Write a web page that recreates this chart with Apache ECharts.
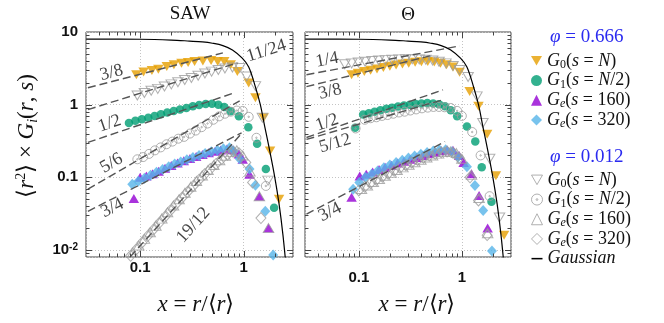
<!DOCTYPE html>
<html>
<head>
<meta charset="utf-8">
<script src="https://cdn.jsdelivr.net/npm/echarts@6/dist/echarts.min.js"></script>
<style>
html,body{margin:0;padding:0;background:#ffffff;}
#chart{width:664px;height:323px;}
</style>
</head>
<body>
<div id="chart"></div>
<script>
// ---------------- data ----------------
const panelTitles = ['SAW', 'Θ'];
const xTickValues = [0.1, 1];
const xTickLabels = ['0.1', '1'];
const yTickValues = [0.01, 0.1, 1, 10];
const yTickLabels = ['10^-2', '0.1', '1', '10'];

// SAW panel, phi = 0.666
const sawG0MeltX = [0.092,0.108,0.13,0.15,0.181,0.212,0.251,0.291,0.336,0.404,0.485,0.562,0.65,0.75,0.87,1.12,1.3,1.56,1.8,2.2];
const sawG0MeltY = [2.58,2.81,2.95,3.08,3.35,3.53,3.72,3.79,3.92,4.0,4.05,3.92,3.92,3.53,2.86,1.98,1.24,0.66,0.23,0.05];
const sawG1MeltX = [0.078,0.09,0.104,0.12,0.138,0.159,0.183,0.211,0.243,0.28,0.323,0.372,0.43,0.495,0.57,0.65,0.75,0.9,1.11,1.35,1.64,1.97];
const sawG1MeltY = [0.56,0.6,0.63,0.66,0.7,0.74,0.78,0.82,0.86,0.9,0.95,0.99,1.02,1.03,1.0,0.93,0.81,0.69,0.49,0.29,0.13,0.038];
const sawGe160MeltX = [0.087,0.1,0.115,0.132,0.151,0.174,0.2,0.23,0.264,0.303,0.348,0.4,0.46,0.53,0.6,0.69,0.79,0.9,0.98,1.14,1.42,1.74];
const sawGe160MeltY = [0.051,0.1,0.104,0.112,0.121,0.133,0.145,0.157,0.169,0.181,0.194,0.206,0.218,0.229,0.238,0.245,0.24,0.21,0.177,0.11,0.055,0.02];
const sawGe320MeltX = [0.084,0.096,0.11,0.126,0.144,0.165,0.189,0.216,0.247,0.283,0.324,0.371,0.425,0.487,0.557,0.638,0.73,0.8,0.915,1.14,1.3,1.62,1.93];
const sawGe320MeltY = [0.08,0.088,0.097,0.107,0.117,0.128,0.14,0.152,0.163,0.175,0.188,0.2,0.212,0.224,0.236,0.248,0.255,0.23,0.18,0.13,0.078,0.034,0.0085];
// SAW panel, phi = 0.012
const sawG0DilX = [0.094,0.11,0.128,0.148,0.172,0.2,0.232,0.27,0.313,0.364,0.423,0.49,0.57,0.66,0.78,0.92,1.07,1.3,1.52,1.72];
const sawG0DilY = [1.34,1.45,1.55,1.65,1.78,1.9,2.03,2.18,2.33,2.5,2.68,2.85,3.0,3.15,3.24,3.2,2.44,1.8,0.66,0.09];
const sawG1DilX = [0.094,0.107,0.122,0.139,0.158,0.18,0.205,0.234,0.266,0.303,0.345,0.393,0.448,0.51,0.58,0.66,0.75,0.86,0.98,1.12,1.33,1.64];
const sawG1DilY = [0.177,0.19,0.21,0.235,0.258,0.285,0.31,0.34,0.36,0.4,0.44,0.49,0.55,0.62,0.69,0.75,0.8,0.83,0.82,0.68,0.35,0.076];
const sawGe160DilX = [0.085,0.097,0.11,0.125,0.142,0.162,0.184,0.21,0.238,0.271,0.308,0.35,0.398,0.453,0.515,0.586,0.666,0.757,0.86,0.98,1.15,1.42,1.74];
const sawGe160DilY = [0.0092,0.0115,0.0142,0.0175,0.0215,0.027,0.033,0.041,0.05,0.061,0.074,0.089,0.106,0.126,0.148,0.172,0.198,0.222,0.235,0.2,0.12,0.055,0.02];
const sawGe320DilX = [0.081,0.092,0.104,0.118,0.134,0.152,0.173,0.196,0.223,0.253,0.287,0.326,0.37,0.42,0.477,0.542,0.615,0.698,0.79,0.9,1.05,1.22,1.47];
const sawGe320DilY = [0.0083,0.0102,0.0126,0.0155,0.019,0.0233,0.0285,0.035,0.043,0.052,0.063,0.076,0.092,0.11,0.13,0.153,0.18,0.205,0.225,0.215,0.16,0.085,0.0275];

// Theta panel, phi = 0.666
const thG0MeltX = [0.085,0.098,0.113,0.13,0.15,0.173,0.2,0.23,0.265,0.305,0.352,0.405,0.467,0.54,0.62,0.71,0.82,0.95,1.19,1.45,1.76,2.14,2.57];
const thG0MeltY = [2.58,2.7,2.85,2.98,3.1,3.25,3.38,3.5,3.62,3.72,3.82,3.9,3.92,3.85,3.72,3.55,3.3,2.8,1.52,0.95,0.39,0.105,0.016];
const thG1MeltX = [0.092,0.11,0.125,0.142,0.162,0.185,0.21,0.24,0.274,0.312,0.356,0.405,0.462,0.527,0.6,0.685,0.78,0.9,1.12,1.35,1.56,1.94];
const thG1MeltY = [0.48,0.73,0.76,0.8,0.84,0.88,0.91,0.94,0.97,1.0,1.02,1.04,1.05,1.04,1.01,0.95,0.84,0.69,0.5,0.31,0.138,0.046];
const thGe160MeltX = [0.085,0.102,0.118,0.136,0.157,0.18,0.207,0.238,0.274,0.315,0.362,0.416,0.478,0.55,0.63,0.72,0.82,0.94,1.04,1.24,1.47,1.78];
const thGe160MeltY = [0.053,0.104,0.11,0.118,0.128,0.138,0.147,0.157,0.167,0.177,0.188,0.2,0.212,0.222,0.232,0.238,0.235,0.2,0.16,0.112,0.056,0.02];
const thGe320MeltX = [0.088,0.101,0.116,0.133,0.152,0.175,0.2,0.23,0.264,0.303,0.348,0.4,0.46,0.528,0.606,0.696,0.8,0.92,1.12,1.34,1.61,1.96];
const thGe320MeltY = [0.0686,0.085,0.1,0.11,0.122,0.135,0.148,0.16,0.172,0.184,0.196,0.208,0.22,0.23,0.238,0.24,0.225,0.19,0.14,0.077,0.035,0.0097];
// Theta panel, phi = 0.012
const thG0DilX = [0.073,0.085,0.099,0.115,0.134,0.156,0.181,0.21,0.245,0.285,0.33,0.385,0.447,0.52,0.6,0.7,0.82,0.95,1.15,1.4,1.6,1.86,2.32];
const thG0DilY = [3.6,3.7,3.8,3.9,3.98,4.05,4.1,4.15,4.2,4.22,4.22,4.2,4.15,4.05,3.9,3.7,3.4,3.0,2.4,1.3,0.56,0.18,0.028];
const thG1DilX = [0.093,0.114,0.13,0.148,0.168,0.19,0.216,0.245,0.278,0.316,0.36,0.41,0.466,0.53,0.6,0.68,0.78,0.9,1.0,1.26,1.52,1.86];
const thG1DilY = [0.47,0.62,0.65,0.67,0.7,0.72,0.75,0.78,0.8,0.83,0.86,0.89,0.91,0.93,0.93,0.92,0.9,0.82,0.7,0.42,0.2,0.055];
const thGe160DilX = [0.106,0.121,0.138,0.158,0.18,0.206,0.235,0.268,0.306,0.35,0.4,0.456,0.52,0.594,0.678,0.775,0.885,1.0,1.24,1.47,1.78];
const thGe160DilY = [0.069,0.077,0.086,0.095,0.105,0.115,0.126,0.137,0.149,0.161,0.174,0.187,0.2,0.212,0.222,0.226,0.215,0.18,0.108,0.052,0.017];
const thGe320DilX = [0.1,0.114,0.13,0.148,0.169,0.193,0.22,0.251,0.286,0.326,0.372,0.424,0.484,0.552,0.63,0.718,0.82,0.94,1.2,1.45,1.76];
const thGe320DilY = [0.066,0.074,0.083,0.092,0.102,0.112,0.123,0.135,0.147,0.16,0.173,0.186,0.199,0.211,0.221,0.226,0.218,0.185,0.1,0.048,0.016];

// Gaussian reference curve (same in both panels)
const gaussX = [0.03,0.1,0.2,0.3,0.4,0.5,0.63,0.78,0.97,1.12,1.3,1.45,1.6,1.8,2.0,2.2,2.4,2.6];
const gaussY = [8.0,7.95,7.75,7.5,7.3,7.0,6.5,5.66,4.36,3.3,1.75,1.0,0.5,0.22,0.1,0.043,0.016,0.005];

// power-law guide lines: [x1, y1, x2, y2], label, label anchor [x, y]
const sawSlopeNames = ['3/8', '11/24', '1/2', '5/6', '3/4', '19/12'];
const sawSlopeEnds = [[0.0313,1.71,0.63,5.15],[0.0313,0.855,0.87,3.76],[0.0313,0.302,0.82,1.46],[0.0313,0.0686,0.916,1.13],[0.0313,0.034,0.956,0.41],[0.08,0.008,0.936,0.388]];
const sawSlopeLabelAt = [[0.053,2.74],[1.66,5.5],[0.0507,0.55],[0.053,0.156],[0.054,0.0376],[0.327,0.022]];
const thSlopeNames = ['1/4', '3/8', '1/2', '5/12', '3/4'];
const thSlopeEnds = [[0.031,2.58,0.956,6.43],[0.031,1.77,0.49,4.69],[0.031,0.353,0.656,1.6],[0.031,0.332,0.656,1.17],[0.031,0.0311,0.687,0.311]];
const thSlopeLabelAt = [[0.0492,4.13],[0.0526,1.51],[0.0492,0.566],[0.0588,0.292],[0.0526,0.0332]];

const legendHeads = ['φ = 0.666', 'φ = 0.012'];

// ---------------- build ----------------
const pairs = (xs, ys) => xs.map((v, i) => [v, ys[i]]);
const panelData = [
  {G0_666:[sawG0MeltX,sawG0MeltY], G1_666:[sawG1MeltX,sawG1MeltY], Ge160_666:[sawGe160MeltX,sawGe160MeltY], Ge320_666:[sawGe320MeltX,sawGe320MeltY],
   G0_012:[sawG0DilX,sawG0DilY], G1_012:[sawG1DilX,sawG1DilY], Ge160_012:[sawGe160DilX,sawGe160DilY], Ge320_012:[sawGe320DilX,sawGe320DilY]},
  {G0_666:[thG0MeltX,thG0MeltY], G1_666:[thG1MeltX,thG1MeltY], Ge160_666:[thGe160MeltX,thGe160MeltY], Ge320_666:[thGe320MeltX,thGe320MeltY],
   G0_012:[thG0DilX,thG0DilY], G1_012:[thG1DilX,thG1DilY], Ge160_012:[thGe160DilX,thGe160DilY], Ge320_012:[thGe320DilX,thGe320DilY]}
];
const slopes = [
  {names: sawSlopeNames, ends: sawSlopeEnds, at: sawSlopeLabelAt},
  {names: thSlopeNames, ends: thSlopeEnds, at: thSlopeLabelAt}
];

const ringDot = 'path://M0,-10A10,10 0 1,1 0,10A10,10 0 1,1 0,-10Z M0,-1.6A1.6,1.6 0 1,1 0,1.6A1.6,1.6 0 1,1 0,-1.6Z';
const downTri = 'path://M0,0L12,0L6,10.4Z';
const dashIcon = 'path://M0,0L10,0L10,1.4L0,1.4Z';
const GRAY = '#9c9c9c';
const markerStyle = {
  G0_666:   {symbol:'triangle', rotate:180, size:[10.5,9], color:'#E69F00'},
  G1_666:   {symbol:'circle', rotate:0, size:8.5, color:'#009E73'},
  Ge160_666:{symbol:'triangle', rotate:0, size:[10.5,9], color:'#9400D3'},
  Ge320_666:{symbol:'diamond', rotate:0, size:[10,11], color:'#56B4E9'},
  G0_012:   {symbol:'triangle', rotate:180, size:[10.5,9], open:true},
  G1_012:   {symbol:ringDot, rotate:0, size:9, open:true},
  Ge160_012:{symbol:'triangle', rotate:0, size:[10.5,9], open:true},
  Ge320_012:{symbol:'diamond', rotate:0, size:[10,11], open:true}
};
const meltKeys = ['G0_666','G1_666','Ge160_666','Ge320_666'];
const dilKeys = ['G0_012','G1_012','Ge160_012','Ge320_012'];

function buildTicks(lo, hi) {
  const out = [];
  for (let d = Math.floor(Math.log10(lo)); d <= Math.ceil(Math.log10(hi)); d++) {
    for (let m = 1; m <= 9; m++) {
      const v = m * Math.pow(10, d);
      if (v > lo * 1.0001 && v < hi * 0.9999) out.push({v: v, major: m === 1});
    }
  }
  return out;
}
const X_MIN = 0.03, X_MAX = 3, Y_MIN = 0.008, Y_MAX = 10;
const xTicks = buildTicks(X_MIN, X_MAX);
const yTicks = buildTicks(Y_MIN, Y_MAX);

const series = [];
for (let p = 0; p < 2; p++) {
  [...meltKeys, ...dilKeys].forEach((k, idx) => {
    const ms = markerStyle[k];
    const d = panelData[p][k];
    series.push({
      type:'scatter', name:k, xAxisIndex:p, yAxisIndex:p, clip:false, silent:true,
      symbol: ms.symbol, symbolRotate: ms.rotate, symbolSize: ms.size,
      itemStyle: ms.open ? {color:'rgba(255,255,255,0)', borderColor:GRAY, borderWidth:1}
                         : {color: ms.color, borderWidth:0},
      z: 2 + idx * 0.01,
      data: pairs(d[0], d[1])
    });
  });
  series.push({
    type:'line', name:'Gaussian', xAxisIndex:p, yAxisIndex:p, showSymbol:false, symbol:'none',
    smooth:0.35, clip:true, silent:true, z:4, color:'#000',
    itemStyle:{color:'#000'},
    lineStyle:{color:'#000', width:1.2},
    data: pairs(gaussX, gaussY)
  });
  slopes[p].ends.forEach((e, i) => {
    series.push({
      type:'line', name:'slope'+p+'_'+i, xAxisIndex:p, yAxisIndex:p, showSymbol:false, symbol:'none',
      clip:true, silent:true, z:3,
      lineStyle:{color:'#555', width:1.4, type:[8,4]},
      data: [[e[0], e[1]], [e[2], e[3]]]
    });
  });
  // slope labels, rotated along their guide lines (rotation from on-screen slope)
  series.push({
    type:'scatter', name:'slopeLabels'+p, xAxisIndex:p, yAxisIndex:p, symbolSize:0, silent:true, clip:false, z:6,
    data: slopes[p].names.map((nm, i) => {
      const e = slopes[p].ends[i];
      const ex = Math.log10(e[3] / e[1]) / Math.log10(e[2] / e[0]);
      const ang = Math.atan(ex * 0.70) * 180 / Math.PI;
      return {value: slopes[p].at[i], name: nm, label:{rotate: ang}};
    }),
    label:{show:true, position:'inside', formatter:'{b}', color:'#111', fontFamily:'Liberation Serif', fontSize:18}
  });
  series.push({
    type:'custom', name:'ticks'+p, xAxisIndex:p, yAxisIndex:p, silent:true, clip:false, z:7,
    data:[[1,1]],
    renderItem: function (params, api) {
      const cs = params.coordSys;
      const L = cs.x, T = cs.y, R = cs.x + cs.width, B = cs.y + cs.height;
      const st = {stroke:'#444', lineWidth:1};
      const ch = [];
      xTicks.forEach(t => {
        const px = Math.round(api.coord([t.v, 1])[0]) + 0.5;
        const len = t.major ? 6 : 3.5;
        ch.push({type:'line', shape:{x1:px, y1:B, x2:px, y2:B - len}, style:st});
        ch.push({type:'line', shape:{x1:px, y1:T, x2:px, y2:T + len}, style:st});
      });
      yTicks.forEach(t => {
        const py = Math.round(api.coord([1, t.v])[1]) + 0.5;
        const len = t.major ? 6 : 3.5;
        ch.push({type:'line', shape:{x1:L, y1:py, x2:L + len, y2:py}, style:st});
        ch.push({type:'line', shape:{x1:R, y1:py, x2:R - len, y2:py}, style:st});
      });
      return {type:'group', children: ch};
    }
  });
}

function matchIdx(vals, v) {
  for (let i = 0; i < vals.length; i++) if (Math.abs(Math.log10(v) - Math.log10(vals[i])) < 1e-6) return i;
  return -1;
}
const xFormatter = v => { const i = matchIdx(xTickValues, v); return i < 0 ? '' : xTickLabels[i]; };
const yFormatter = v => {
  const i = matchIdx(yTickValues, v); if (i < 0) return '';
  const s = yTickLabels[i];
  if (s.indexOf('^') >= 0) { const parts = s.split('^'); return '{a|' + parts[0] + '}{b|' + parts[1] + '}'; }
  return '{a|' + s + '}';
};
const tickFont = {fontFamily:'Liberation Sans', fontWeight:'bold', fontSize:15, color:'#111'};
const gridLine = {show:true, lineStyle:{color:'#c4c4c4', type:[1,2], width:1}};

function xAxis(p, margin) {
  return {type:'log', logBase:10, gridIndex:p, min:X_MIN, max:X_MAX,
    axisLine:{show:false}, axisTick:{show:false}, splitLine:gridLine, minorTick:{show:false},
    axisLabel:Object.assign({formatter:xFormatter, margin:margin, showMinLabel:false, showMaxLabel:false}, tickFont)};
}
function yAxis(p, showLabels) {
  return {type:'log', logBase:10, gridIndex:p, min:Y_MIN, max:Y_MAX,
    axisLine:{show:false}, axisTick:{show:false}, splitLine:gridLine,
    axisLabel:Object.assign({show:showLabels, formatter:yFormatter, margin:8, showMinLabel:false,
      rich:{a:Object.assign({lineHeight:16}, tickFont), b:{fontFamily:'Liberation Sans', fontWeight:'bold', fontSize:10, color:'#111', verticalAlign:'top', lineHeight:10}}}, tickFont)};
}

const serif = 'Liberation Serif';
const legendRich = {
  i:{fontFamily:serif, fontStyle:'italic', fontSize:18, lineHeight:19.7, color:'#111'},
  n:{fontFamily:serif, fontSize:18, lineHeight:19.7, color:'#111'},
  s:{fontFamily:serif, fontSize:12, lineHeight:9, verticalAlign:'bottom', color:'#111'},
  si:{fontFamily:serif, fontStyle:'italic', fontSize:12, lineHeight:9, verticalAlign:'bottom', color:'#111'}
};
const legendText = {
  G0_666:'{i|G}{s|0}{n|(}{i|s}{n| = }{i|N}{n|)}',
  G1_666:'{i|G}{s|1}{n|(}{i|s}{n| = }{i|N}{n|/2)}',
  Ge160_666:'{i|G}{si|e}{n|(}{i|s}{n| = 160)}',
  Ge320_666:'{i|G}{si|e}{n|(}{i|s}{n| = 320)}',
  Gaussian:'{i|Gaussian}'
};
legendText.G0_012 = legendText.G0_666; legendText.G1_012 = legendText.G1_666;
legendText.Ge160_012 = legendText.Ge160_666; legendText.Ge320_012 = legendText.Ge320_666;

function legendItem(n) {
  const it = {name:n};
  if (n === 'G0_666' || n === 'G0_012') it.icon = downTri;
  if (n === 'Gaussian') { it.icon = dashIcon; it.itemStyle = {color:'#000', borderWidth:0}; }
  if (dilKeys.indexOf(n) >= 0) it.itemStyle = {color:'rgba(255,255,255,0)', borderWidth:1, borderColor:GRAY};
  return it;
}
function legend(top, names) {
  return {show:true, orient:'vertical', left:531, top:top, itemWidth:11, itemHeight:11, itemGap:0,
    selectedMode:false, padding:0,
    data: names.map(legendItem),
    formatter: n => legendText[n],
    textStyle:{fontFamily:serif, fontSize:18, lineHeight:19.7, color:'#111', rich:legendRich}};
}

const richTitle = {
  i:{fontFamily:serif, fontStyle:'italic', fontSize:23, lineHeight:26, fill:'#111'},
  n:{fontFamily:serif, fontSize:23, lineHeight:26, fill:'#111'},
  sup:{fontFamily:serif, fontSize:14, lineHeight:12, verticalAlign:'top', fill:'#111'},
  sub:{fontFamily:serif, fontStyle:'italic', fontSize:14, lineHeight:12, verticalAlign:'bottom', fill:'#111'}
};
const xTitle = '{i|x}{n| = }{i|r}{n|/⟨}{i|r}{n|⟩}';
const yTitle = '{n|⟨}{i|r}{sup|2}{n|⟩ × }{i|G}{sub|i}{n|(}{i|r}{n|, }{i|s}{n|)}';
const headRich = {
  i:{fontFamily:serif, fontStyle:'italic', fontSize:19, fill:'#2a2af0'},
  n:{fontFamily:serif, fontSize:19, fill:'#2a2af0'}
};
const headText = h => '{i|' + h.slice(0,1) + '}{n|' + h.slice(1) + '}';

const option = {
  animation:false,
  backgroundColor:'#ffffff',
  grid:[
    {left:86, top:32, width:207, height:225, show:true, borderColor:'#444', borderWidth:1, backgroundColor:'rgba(0,0,0,0)', outerBoundsMode:'none'},
    {left:305, top:32, width:206, height:225, show:true, borderColor:'#444', borderWidth:1, backgroundColor:'rgba(0,0,0,0)', outerBoundsMode:'none'}
  ],
  xAxis:[xAxis(0, 3), xAxis(1, 13)],
  yAxis:[yAxis(0, true), yAxis(1, false)],
  legend:[legend(51, meltKeys), legend(170, [...dilKeys, 'Gaussian'])],
  graphic:[
    {type:'text', x:190, y:14, style:{text:panelTitles[0], font:'19px "Liberation Serif"', fill:'#111', align:'center', verticalAlign:'middle'}},
    {type:'text', x:408, y:15, style:{text:panelTitles[1], font:'19px "Liberation Serif"', fill:'#111', align:'center', verticalAlign:'middle'}},
    {type:'text', x:196, y:305, style:{text:xTitle, rich:richTitle, align:'center', verticalAlign:'middle'}},
    {type:'text', x:417, y:305, style:{text:xTitle, rich:richTitle, align:'center', verticalAlign:'middle'}},
    {type:'text', x:27, y:136, rotation:Math.PI/2, style:{text:yTitle, rich:richTitle, align:'center', verticalAlign:'middle'}},
    {type:'text', x:550, y:37, style:{text:headText(legendHeads[0]), rich:headRich, align:'left', verticalAlign:'middle'}},
    {type:'text', x:550, y:157, style:{text:headText(legendHeads[1]), rich:headRich, align:'left', verticalAlign:'middle'}}
  ],
  series: series
};
const chart = echarts.init(document.getElementById('chart'), null, {renderer:'canvas'});
chart.setOption(option);
</script>
</body>
</html>
